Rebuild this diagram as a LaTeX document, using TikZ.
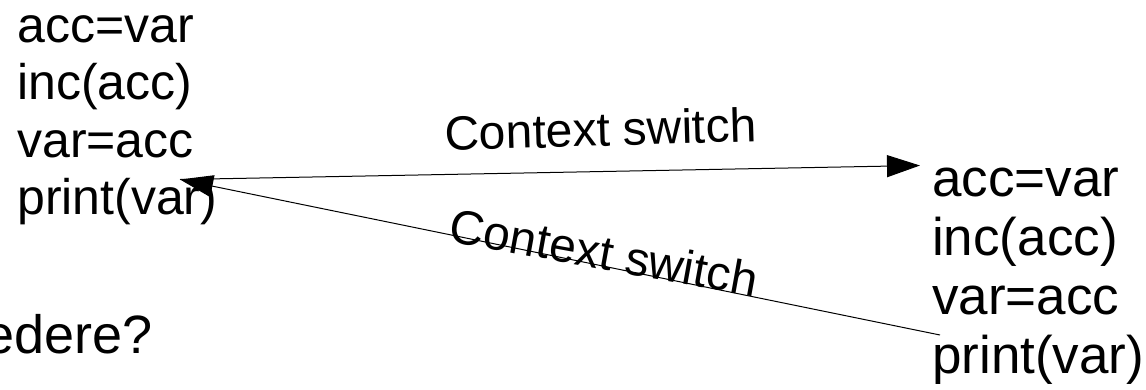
\documentclass[tikz,border=0pt]{standalone}
\usepackage{fontspec}
\setmainfont{Liberation Sans}
\usetikzlibrary{arrows.meta}

\begin{document}
\begin{tikzpicture}[x=1pt,y=-1pt,
    code/.style={anchor=base west,inner sep=0pt,font=\fontsize{50}{58}\selectfont},
    bigcode/.style={code,font=\fontsize{53}{60}\selectfont},
    switchlabel/.style={anchor=base,inner sep=0pt,font=\fontsize{48}{56}\selectfont},
    switcharrow/.style={line width=1pt,-{Triangle[length=33pt,width=22pt]}}]

      % page frame, y runs downwards
      \useasboundingbox (0,0) rectangle (1146,389);

      % first thread, top left
      \node[code] (ta1) at (17,42) {acc=var};
      \node[code] (ta2) at (17,99.5) {inc(acc)};
      \node[code] (ta3) at (17,157) {var=acc};
      \node[code] (ta4) at (17,214.5) {print(var)};

      % second thread, bottom right
      \node[bigcode] (tb1) at (932,196) {acc=var};
      \node[bigcode] (tb2) at (932,255) {inc(acc)};
      \node[bigcode] (tb3) at (932,314) {var=acc};
      \node[bigcode] (tb4) at (932,373) {print(var)};

      % question, cut off at the left edge
      \node[code,font=\fontsize{54}{64}\selectfont] (question) at (-16,353) {edere?};

      % ends of the two switches
      \coordinate (leave) at (180,179.5);
      \coordinate (enter) at (920,165.5);
      \coordinate (back) at (940,335);

      % switch over to the second thread and back again
      \draw[switcharrow] (leave) -- (enter);
      \draw[switcharrow] (back) -- (leave);

      \node[switchlabel,rotate=1.7] (sw1) at (601,146) {Context switch};
      \node[switchlabel,rotate=-10.3] (sw2) at (601,269) {Context switch};
    \end{tikzpicture}
\end{document}
